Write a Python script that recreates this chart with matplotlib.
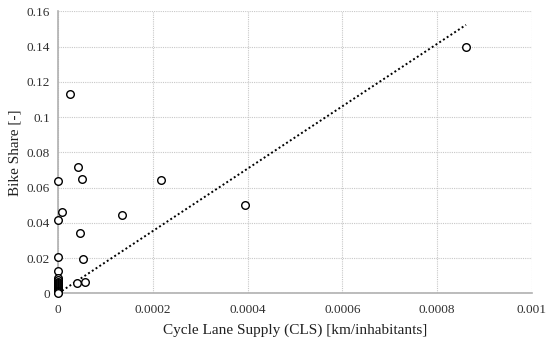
import numpy as np
import matplotlib
matplotlib.use('Agg')
import matplotlib.pyplot as plt
from matplotlib.ticker import FuncFormatter, MultipleLocator

# Cycle lane supply [km/inhabitants] and bike share [-]
cls_supply = [0.0000243, 0.0000412, 0.0000496, 0.0000074, 0.0000454,
              0.0000517, 0.0000391, 0.0000560, 0.000134, 0.000217,
              0.000394, 0.000861,
              0, 0, 0, 0,
              0, 0, 0, 0, 0, 0, 0, 0, 0, 0, 0, 0, 0, 0, 0, 0]
bike_share = [0.1132, 0.0717, 0.0649, 0.0462, 0.0342,
              0.0195, 0.0058, 0.0064, 0.0445, 0.0645,
              0.0503, 0.1400,
              0.0637, 0.0416, 0.0206, 0.0125,
              0.0085, 0.0075, 0.0065, 0.0058, 0.0050, 0.0045, 0.0040, 0.0035,
              0.0030, 0.0025, 0.0020, 0.0015, 0.0010, 0.0008, 0.0005, 0.0003]

x = np.array(cls_supply)
y = np.array(bike_share)

# linear trend through the origin (as the Excel trendline)
slope = np.sum(x * y) / np.sum(x * x)
xt = np.array([0, x.max()])

plt.rcParams['font.family'] = ['Liberation Serif', 'DejaVu Serif']

fig = plt.figure(figsize=(5.5, 3.45), dpi=100)
ax = fig.add_axes([0.106, 0.15, 0.861, 0.8167])

ax.plot(xt, slope * xt, linestyle=(0, (1, 1.3)), color='black', lw=1.4, zorder=2)
ax.scatter(x, y, s=30, facecolors='white', edgecolors='black', linewidths=1.0,
           zorder=3, clip_on=False)

ax.set_xlim(0, 0.001)
ax.set_ylim(0, 0.16)
ax.xaxis.set_major_locator(MultipleLocator(0.0002))
ax.yaxis.set_major_locator(MultipleLocator(0.02))
fmt = FuncFormatter(lambda v, p: f'{v:g}')
ax.xaxis.set_major_formatter(fmt)
ax.yaxis.set_major_formatter(fmt)

ax.grid(True, linestyle=(0, (1, 1)), color='#c8c8c8', lw=0.8)
ax.set_axisbelow(True)
for s in ['top', 'right']:
    ax.spines[s].set_visible(False)
for s in ['left', 'bottom']:
    ax.spines[s].set_color('#b0b0b0')
    ax.spines[s].set_linewidth(1.2)
ax.tick_params(length=0, labelsize=9.5, colors='#303030', pad=8)
ax.tick_params(axis='y', pad=6)

ax.set_xlabel('Cycle Lane Supply (CLS) [km/inhabitants]', fontsize=11, color='#202020', labelpad=5)
ax.set_ylabel('Bike Share [-]', fontsize=11, color='#202020', labelpad=4)

fig.savefig('out.png', dpi=100)
